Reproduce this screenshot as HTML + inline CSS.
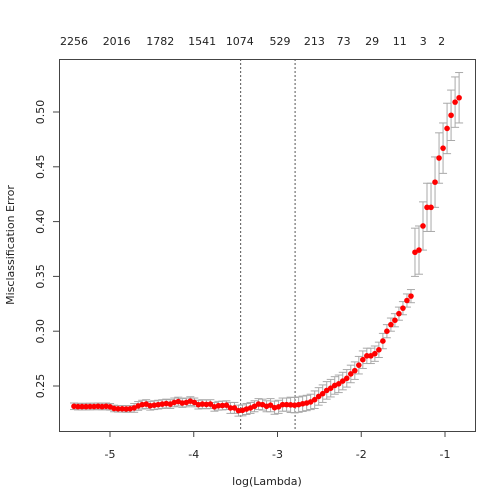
<!DOCTYPE html>
<html><head><meta charset="utf-8"><style>
body{margin:0;background:#fff}
svg{display:block;font-family:"DejaVu Sans","Liberation Sans",sans-serif}
</style></head><body>
<svg id="chart" width="504" height="504" viewBox="0 0 504 504">
<rect x="0" y="0" width="504" height="504" fill="#fff"/>
<g id="marks"></g>
<rect x="59.5" y="59.5" width="416" height="372" fill="none" stroke="#444" stroke-width="1"/>
<g id="axes" font-size="11" fill="#222"></g>
<text x="267" y="485" text-anchor="middle" font-size="11" fill="#222">log(Lambda)</text>
<text transform="translate(14,245) rotate(-90)" text-anchor="middle" font-size="11" fill="#222">Misclassification Error</text>
</svg>
<script>
const logLambdaStart = -5.43;
const logLambdaStep = 0.0479;
const meanError = [.2315,.2312,.2312,.2312,.2313,.2313,.2315,.2312,.2315,.2310,.2295,.2292,.2292,.2290,.2292,.2300,.2318,.2330,.2335,.2320,.2325,.2330,.2335,.2340,.2335,.2350,.2358,.2345,.2350,.2362,.2350,.2330,.2335,.2332,.2335,.2310,.2320,.2322,.2325,.2300,.2300,.2275,.2278,.2290,.2300,.2315,.2335,.2330,.2315,.2325,.2302,.2310,.2330,.2330,.2328,.2325,.2330,.2338,.2345,.2355,.2375,.2405,.2430,.2460,.2480,.2505,.2520,.2545,.2570,.2610,.2640,.2690,.2740,.2775,.2775,.2795,.2830,.2910,.3000,.3060,.3100,.3160,.3210,.3280,.3320,.3720,.3740,.3960,.4130,.4130,.4360,.4580,.4670,.4850,.4970,.5090,.5130];
const sdError = [.003,.003,.003,.003,.003,.003,.003,.003,.003,.003,.003,.003,.003,.003,.003,.004,.004,.004,.004,.004,.004,.004,.004,.004,.004,.004,.004,.004,.004,.004,.004,.004,.004,.004,.004,.004,.004,.004,.004,.005,.005,.005,.005,.005,.005,.005,.005,.005,.005,.006,.006,.006,.006,.006,.007,.007,.007,.007,.007,.007,.008,.008,.008,.008,.008,.008,.008,.008,.008,.008,.008,.008,.008,.007,.007,.007,.007,.007,.006,.006,.006,.006,.006,.006,.006,.022,.022,.022,.022,.022,.023,.023,.023,.023,.023,.023,.023];
const xTicks = [-5,-4,-3,-2,-1];
const yTicks = [0.25,0.30,0.35,0.40,0.45,0.50];
const topLabels = ["2256","2016","1782","1541","1074","529","213","73","29","11","3","2"];
const topLabelPos = [-5.43,-4.92,-4.40,-3.90,-3.45,-2.97,-2.56,-2.21,-1.87,-1.54,-1.26,-1.04];
const vlines = [-3.44,-2.79];

const xs = v => 110 + (v + 5) * 83.75;
const ys = v => 386 - (v - 0.25) * 1096;
const NS = "http://www.w3.org/2000/svg";
function mk(tag, attrs, parent){const e=document.createElementNS(NS,tag);for(const k in attrs)e.setAttribute(k,attrs[k]);parent.appendChild(e);return e;}
const marks = document.getElementById('marks');
const axes = document.getElementById('axes');

vlines.forEach(v=>{
  const l = mk('line',{x1:xs(v),x2:xs(v),y1:59,y2:431,stroke:'#555','stroke-dasharray':'2,2','stroke-width':1},marks);
  
  
});
meanError.forEach((m,i)=>{
  const x = xs(logLambdaStart + i*logLambdaStep);
  const lo = ys(m - sdError[i]), hi = ys(m + sdError[i]);
  const g = mk('g',{stroke:'#a9a9a9','stroke-width':1},marks);
  
  
  mk('line',{x1:x,x2:x,y1:lo,y2:hi},g);
  mk('line',{x1:x-4,x2:x+4,y1:lo,y2:lo},g);
  mk('line',{x1:x-4,x2:x+4,y1:hi,y2:hi},g);
});
meanError.forEach((m,i)=>{
  const c = mk('circle',{cx:xs(logLambdaStart + i*logLambdaStep),cy:ys(m),r:2.8,fill:'#ff0000'},marks);
  
  
});
xTicks.forEach(t=>{
  mk('line',{x1:xs(t),x2:xs(t),y1:431,y2:437,stroke:'#444'},axes);
  const tx = mk('text',{x:xs(t),y:458,'text-anchor':'middle'},axes);
  tx.textContent = t;
  
  
});
yTicks.forEach(t=>{
  mk('line',{x1:53,x2:59,y1:ys(t),y2:ys(t),stroke:'#444'},axes);
  const tx = mk('text',{transform:`translate(44,${ys(t)}) rotate(-90)`,'text-anchor':'middle'},axes);
  tx.textContent = t.toFixed(2);
  
  
});
topLabels.forEach((s,i)=>{
  const tx = mk('text',{x:xs(topLabelPos[i]),y:45,'text-anchor':'middle'},axes);
  tx.textContent = s;
  
  
});
</script>
</body></html>
